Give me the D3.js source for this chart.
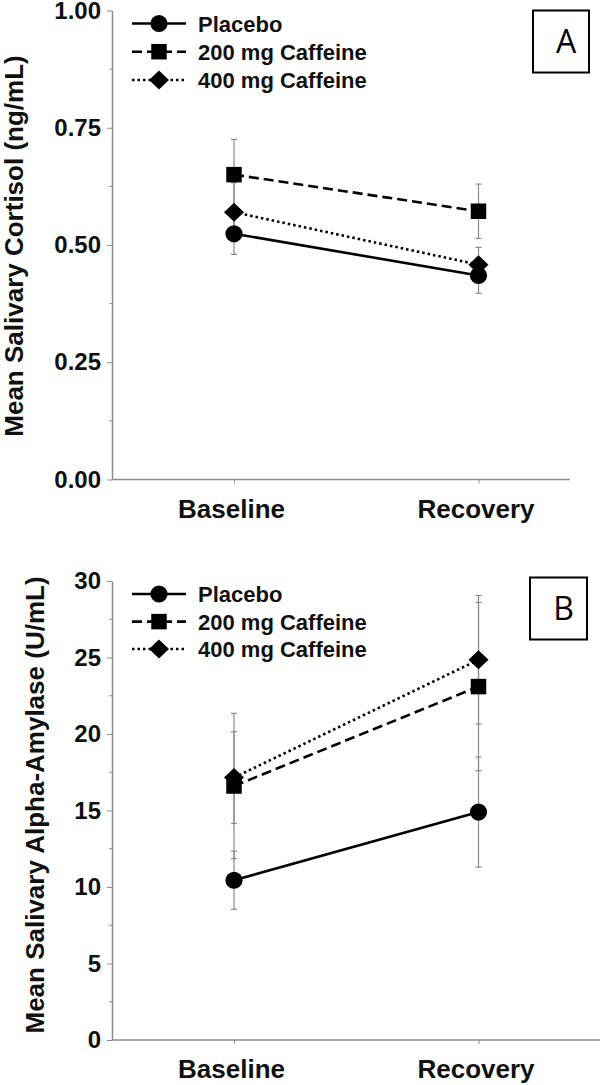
<!DOCTYPE html>
<html>
<head>
<meta charset="utf-8">
<script src="https://cdn.jsdelivr.net/npm/d3@7"></script>
<style>
  body { margin: 0; background: #fff; }
  svg { display: block; font-family: "Liberation Sans", Arial, sans-serif; }
</style>
</head>
<body>
<svg id="chart" width="600" height="1085"></svg>
<script>
// ---- data ----
const timepoints = ["Baseline", "Recovery"];
const seriesNames = ["Placebo", "200 mg Caffeine", "400 mg Caffeine"];

// panel A : salivary cortisol (ng/mL)
const cortisolPlacebo = [0.524, 0.435];
const cortisolPlaceboSE = [0.044, 0.038];
const cortisolCaf200 = [0.650, 0.572];
const cortisolCaf200SE = [0.075, 0.058];
const cortisolCaf400 = [0.570, 0.458];
const cortisolCaf400SE = [0.063, 0.037];
const cortisolTicks = [0, 0.25, 0.5, 0.75, 1.0];
const cortisolTickLabels = ["0.00", "0.25", "0.50", "0.75", "1.00"];

// panel B : salivary alpha-amylase (U/mL)
const amylasePlacebo = [10.44, 14.9];
const amylasePlaceboSE = [1.9, 3.6];
const amylaseCaf200 = [16.6, 23.1];
const amylaseCaf200SE = [4.75, 5.5];
const amylaseCaf400 = [17.15, 24.85];
const amylaseCaf400SE = [3.0, 4.2];
const amylaseTicks = [0, 5, 10, 15, 20, 25, 30];
const amylaseTickLabels = ["0", "5", "10", "15", "20", "25", "30"];

const styles = [
  { dash: null, marker: "circle" },
  { dash: "10,5", marker: "square" },
  { dash: "2.5,3", marker: "diamond" }
];

const svg = d3.select("#chart");

function markerPath(type) {
  if (type === "circle") return d3.symbol(d3.symbolCircle, Math.PI * 8.6 * 8.6)();
  if (type === "square") return d3.symbol(d3.symbolSquare, 15.5 * 15.5)();
  // wide diamond
  return "M0,-9.5L10,0L0,9.5L-10,0Z";
}

function drawPanel(cfg) {
  const g = svg.append("g");
  const x = d3.scalePoint().domain(timepoints).range([234, 478.5]);
  const y = d3.scaleLinear().domain(cfg.domain).range([cfg.bottom, cfg.top]);

  const axisCol = "#8c8c8c";

  // minor ticks
  const minor = d3.range(cfg.domain[0] + cfg.step / 2, cfg.domain[1], cfg.step);
  g.selectAll(".minor").data(minor).join("line")
    .attr("x1", cfg.left - 3).attr("x2", cfg.left)
    .attr("y1", d => y(d)).attr("y2", d => y(d))
    .attr("stroke", axisCol).attr("stroke-width", 1);

  // y axis
  const yAxis = d3.axisLeft(y)
    .tickValues(cfg.ticks)
    .tickFormat((d, i) => cfg.tickLabels[i])
    .tickSize(5).tickPadding(6).tickSizeOuter(0);
  const ya = g.append("g").attr("transform", `translate(${cfg.left},0)`).call(yAxis);
  ya.select(".domain").attr("stroke", axisCol).attr("stroke-width", 1.5);
  ya.selectAll(".tick line").attr("stroke", axisCol);
  ya.selectAll(".tick text")
    .attr("font-size", 24).attr("font-weight", "bold").attr("fill", "#111")
    .attr("font-family", "Liberation Sans, Arial, sans-serif");

  // x axis
  g.append("line")
    .attr("x1", cfg.left).attr("x2", cfg.right)
    .attr("y1", cfg.bottom).attr("y2", cfg.bottom)
    .attr("stroke", axisCol).attr("stroke-width", 1.5);
  const xAxis = d3.axisBottom(x).tickSize(4).tickPadding(16).tickSizeOuter(0);
  const xa = g.append("g").attr("transform", `translate(0,${cfg.bottom})`).call(xAxis);
  xa.select(".domain").remove();
  xa.selectAll(".tick line").attr("stroke", axisCol);
  xa.selectAll(".tick text")
    .attr("font-size", 26).attr("font-weight", "bold").attr("fill", "#111")
    .attr("dx", -3)
    .attr("font-family", "Liberation Sans, Arial, sans-serif");

  // y title
  g.append("text")
    .attr("transform", `translate(${cfg.titleX},${cfg.titleY}) rotate(-90)`)
    .attr("text-anchor", "middle")
    .attr("font-size", 26).attr("font-weight", "bold").attr("fill", "#111")
    .text(cfg.title);

  // error bars
  cfg.series.forEach(s => {
    s.mean.forEach((m, i) => {
      const cx = x(timepoints[i]);
      const lo = y(m - s.se[i]), hi = y(m + s.se[i]);
      g.append("line").attr("x1", cx).attr("x2", cx).attr("y1", lo).attr("y2", hi)
        .attr("stroke", "#8a8a8a").attr("stroke-width", 1.2);
      [lo, hi].forEach(yy => {
        g.append("line").attr("x1", cx - 3).attr("x2", cx + 3).attr("y1", yy).attr("y2", yy)
          .attr("stroke", "#8a8a8a").attr("stroke-width", 1.2);
      });
    });
  });

  // lines
  const line = d3.line().x((d, i) => x(timepoints[i])).y(d => y(d));
  cfg.series.forEach((s, k) => {
    g.append("path").datum(s.mean)
      .attr("d", line)
      .attr("fill", "none").attr("stroke", "#000").attr("stroke-width", 2.6)
      .attr("stroke-dasharray", styles[k].dash);
  });

  // markers
  cfg.series.forEach((s, k) => {
    g.selectAll(null).data(s.mean).join("path")
      .attr("transform", (d, i) => `translate(${x(timepoints[i])},${y(d)})`)
      .attr("d", markerPath(styles[k].marker))
      .attr("fill", "#000");
  });

  // legend
  seriesNames.forEach((name, k) => {
    const ly = cfg.legendY[k];
    g.append("line").attr("x1", 132).attr("x2", 186).attr("y1", ly).attr("y2", ly)
      .attr("stroke", "#000").attr("stroke-width", 2.6)
      .attr("stroke-dasharray", styles[k].dash);
    g.append("path").attr("transform", `translate(159,${ly})`)
      .attr("d", markerPath(styles[k].marker)).attr("fill", "#000");
    g.append("text").attr("x", 198).attr("y", ly + 8)
      .attr("font-size", 22).attr("font-weight", "bold").attr("fill", "#111")
      .text(name);
  });

  // panel letter box
  const b = cfg.box;
  g.append("rect").attr("x", b[0]).attr("y", b[1]).attr("width", b[2]).attr("height", b[3])
    .attr("fill", "#fff").attr("stroke", "#000").attr("stroke-width", 2);
  g.append("text").attr("x", b[0] + b[2] / 2 + 5).attr("y", b[1] + b[3] / 2 + 11)
    .attr("text-anchor", "middle")
    .attr("font-size", 32).attr("font-family", "Open Sans, DejaVu Sans, sans-serif").attr("fill", "#000")
    .text(cfg.letter);
}

drawPanel({
  domain: [0, 1], step: 0.25, top: 10.5, bottom: 479.5, left: 112, right: 570,
  ticks: cortisolTicks, tickLabels: cortisolTickLabels,
  title: "Mean Salivary Cortisol (ng/mL)", titleX: 23, titleY: 246,
  series: [
    { mean: cortisolPlacebo, se: cortisolPlaceboSE },
    { mean: cortisolCaf200, se: cortisolCaf200SE },
    { mean: cortisolCaf400, se: cortisolCaf400SE }
  ],
  legendY: [23.5, 51.7, 80],
  box: [533, 10.5, 56, 62], letter: "A"
});

drawPanel({
  domain: [0, 30], step: 5, top: 581, bottom: 1040, left: 112, right: 600,
  ticks: amylaseTicks, tickLabels: amylaseTickLabels,
  title: "Mean Salivary Alpha-Amylase (U/mL)", titleX: 44, titleY: 805,
  series: [
    { mean: amylasePlacebo, se: amylasePlaceboSE },
    { mean: amylaseCaf200, se: amylaseCaf200SE },
    { mean: amylaseCaf400, se: amylaseCaf400SE }
  ],
  legendY: [594, 621.6, 649],
  box: [530, 577.5, 57, 62], letter: "B"
});
</script>
</body>
</html>
